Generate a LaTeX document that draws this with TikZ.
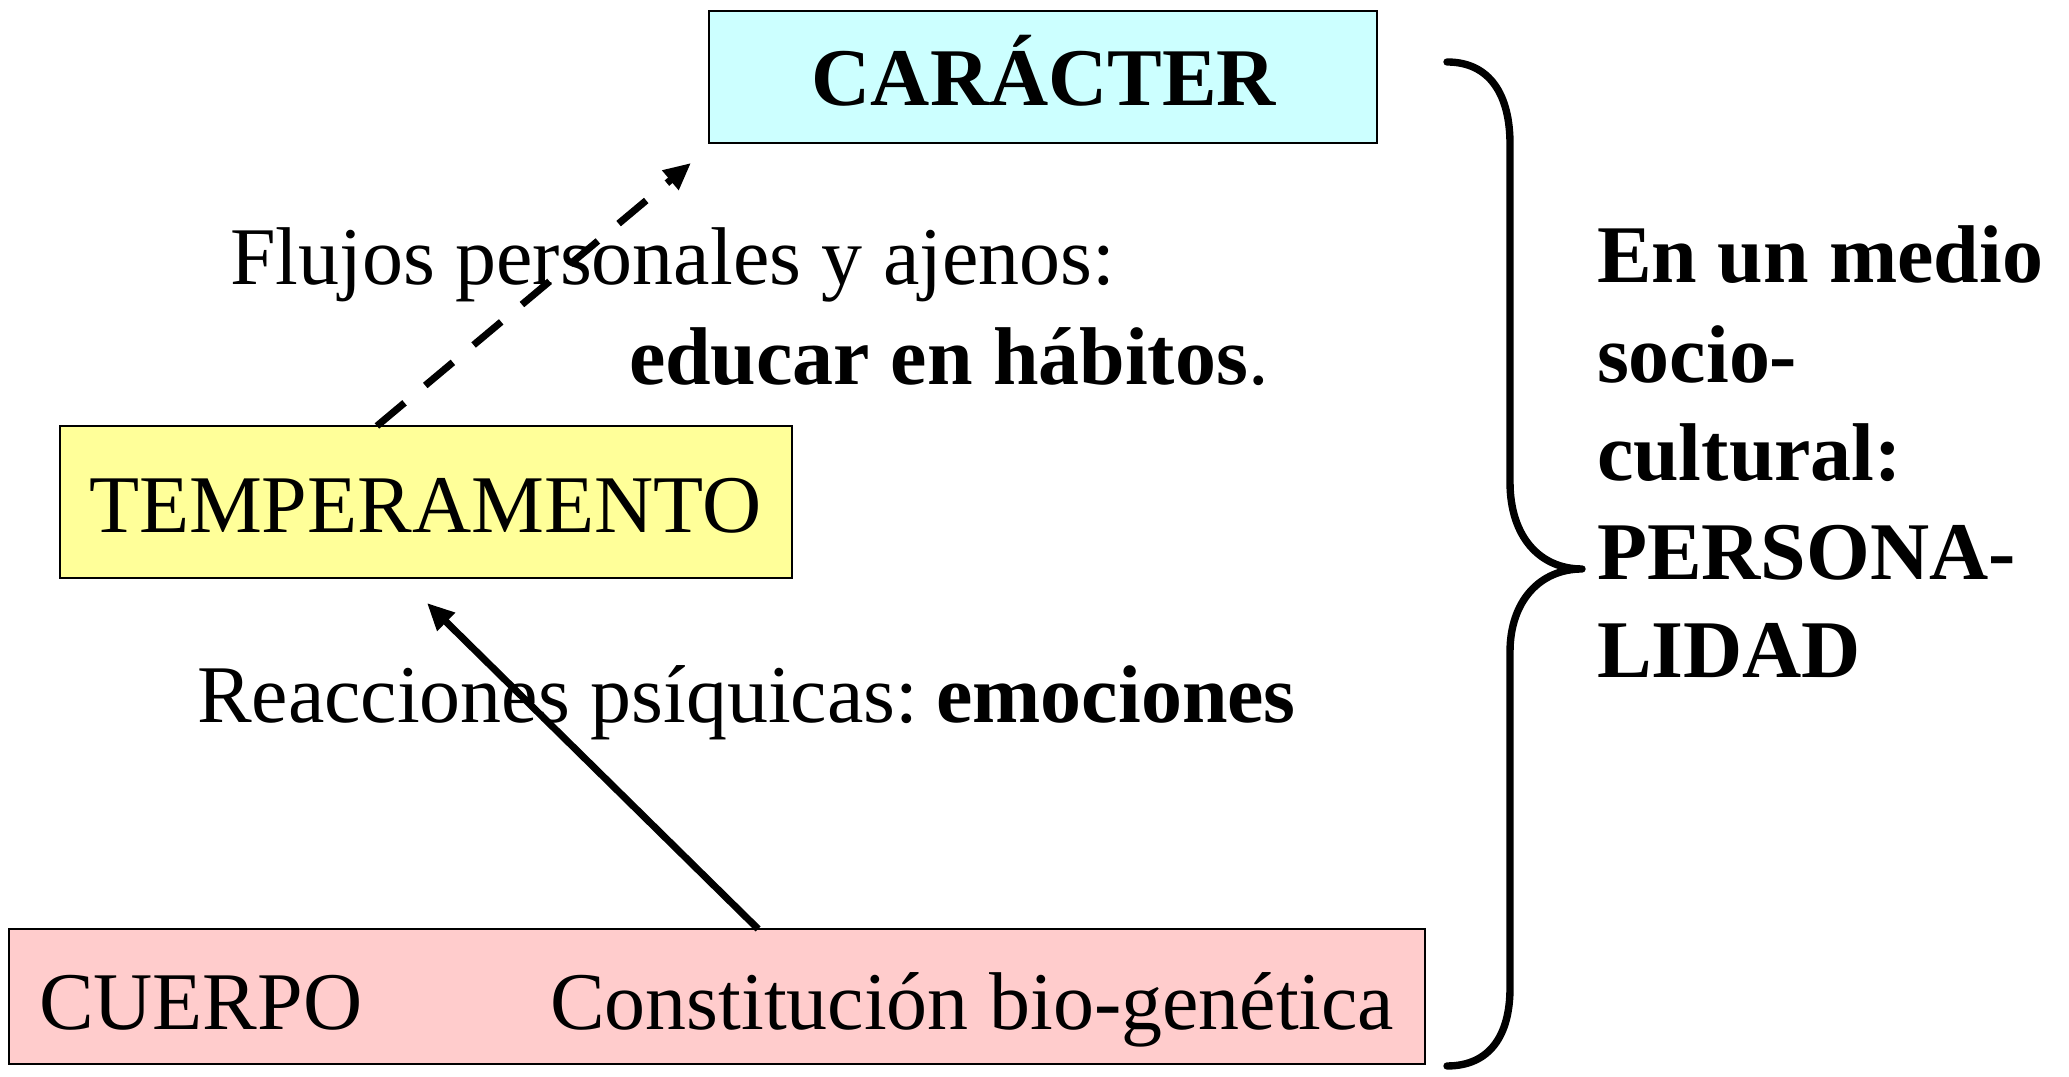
\documentclass[tikz,border=0pt]{standalone}
\usepackage{fontspec}
\setmainfont{Liberation Serif}
\usetikzlibrary{arrows.meta,calc}
\definecolor{cyanbox}{HTML}{CCFFFF}
\definecolor{yellowbox}{HTML}{FFFF99}
\definecolor{pinkbox}{HTML}{FFCCCC}
\begin{document}
\begin{tikzpicture}[x=0.01cm,y=-0.01cm,
  box/.style={draw=black, line width=0.6pt, inner sep=0pt, outer sep=0pt, rectangle},
  txt/.style={inner sep=0pt, outer sep=0pt, anchor=base west, font=\fontsize{23.3}{28}\selectfont},
  ctxt/.style={txt, anchor=base},
  arr/.style={line width=2pt, -{Triangle[length=0.27cm,width=0.24cm]}},
  bracepath/.style={line width=2.1pt, line cap=round, line join=round},
]
\useasboundingbox (0,0) rectangle (2069,1077);

% boxes
\node[box, fill=cyanbox, minimum width=6.67cm, minimum height=1.32cm] (car) at (1043,77) {};
\node[box, fill=yellowbox, minimum width=7.32cm, minimum height=1.52cm] (temp) at (426,502) {};
\node[box, fill=pinkbox, minimum width=14.16cm, minimum height=1.35cm] (cuerpo) at (717,996.5) {};

% box texts
\node[ctxt] (cartxt) at (1044,106) {\bfseries CARÁCTER};
\node[txt] (temptxt) at (89,533) {TEMPERAMENTO};
\node[txt] (cuerpotxt) at (39,1030) {CUERPO};
\node[txt] (consttxt) at (550,1030) {Constitución bio-genética};

% labels
\node[txt] (flujos) at (230,285) {Flujos personales y ajenos:};
\node[txt] (educar) at (629,385) {\bfseries educar en hábitos\mdseries.};
\node[txt] (reacc) at (197,723) {Reacciones psíquicas:\hspace{0.22em}\bfseries emociones};

% arrows
\coordinate (dtip) at (691,163);
\coordinate (stip) at (427,603);
\draw[arr, dash pattern=on 0.36cm off 0.27cm] ($(temp.north west)!0.433!(temp.north east)$) -- (dtip);
\draw[arr] ($(cuerpo.north west)!0.529!(cuerpo.north east)$) -- (stip);

% brace
\draw[bracepath] (1447,62) .. controls (1490,62) and (1510,95) .. (1510,144)
  -- (1510,482) .. controls (1510,537) and (1540,569) .. (1582,569)
  .. controls (1540,569) and (1510,601) .. (1510,652)
  -- (1510,988) .. controls (1510,1035) and (1490,1066) .. (1447,1066);

% right text
\node[txt] (r1) at (1597,283) {\bfseries En un medio};
\node[txt] (r2) at (1597,383) {\bfseries socio-};
\node[txt] (r3) at (1597,481) {\bfseries cultural:};
\node[txt] (r4) at (1597,580) {\bfseries PERSONA-};
\node[txt] (r5) at (1597,678) {\bfseries LIDAD};
\end{tikzpicture}
\end{document}
